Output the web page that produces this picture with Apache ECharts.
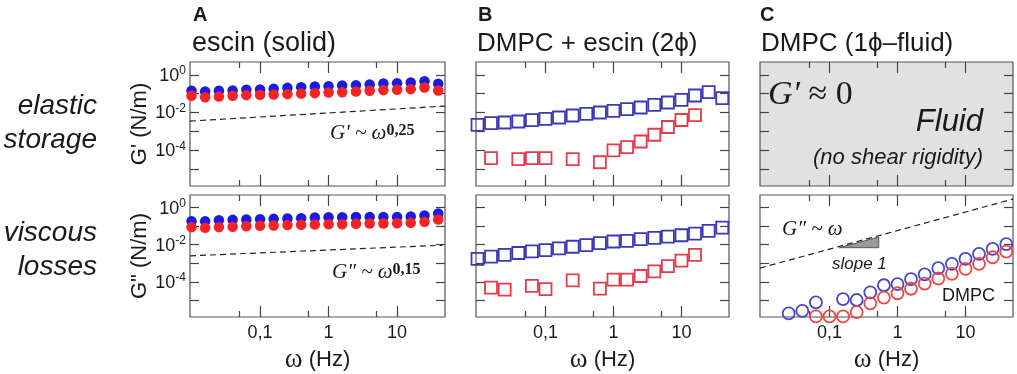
<!DOCTYPE html>
<html>
<head>
<meta charset="utf-8">
<script src="https://cdn.jsdelivr.net/npm/echarts@6/dist/echarts.min.js"></script>
<style>
html, body { margin: 0; padding: 0; background: #fff; }
#chart { width: 1017px; height: 374px; }
</style>
</head>
<body>
<div id="chart"></div>
<script>
// frequency points (Hz), 5 per decade
const freq = [0.01, 0.0158, 0.0251, 0.0398, 0.0631, 0.1, 0.158, 0.251, 0.398, 0.631, 1, 1.58, 2.51, 3.98, 6.31, 10, 15.8, 25.1, 39.8];

// A: escin (solid)
const escinStoreBlue = [0.142, 0.131, 0.142, 0.147, 0.160, 0.166, 0.181, 0.204, 0.222, 0.240, 0.251, 0.270, 0.284, 0.305, 0.345, 0.363, 0.391, 0.463, 0.333];
const escinStoreRed  = [0.0769, 0.0653, 0.0709, 0.0769, 0.0835, 0.0869, 0.0906, 0.0944, 0.102, 0.107, 0.116, 0.120, 0.131, 0.142, 0.154, 0.160, 0.174, 0.213, 0.148];
const escinLossBlue  = [0.186, 0.186, 0.210, 0.219, 0.228, 0.238, 0.248, 0.258, 0.269, 0.292, 0.304, 0.304, 0.317, 0.317, 0.317, 0.317, 0.330, 0.373, 0.478];
const escinLossRed   = [0.0887, 0.0818, 0.0887, 0.0925, 0.100, 0.105, 0.109, 0.114, 0.118, 0.123, 0.128, 0.128, 0.134, 0.139, 0.139, 0.145, 0.151, 0.171, 0.228];
// guide lines (two end points each)
const storeGuideX = [0.0095, 50];
const storeGuideY = [0.0035, 0.022];
const lossGuideX = [0.0095, 46];
const lossGuideY = [0.0025, 0.0094];

// B: DMPC + escin (2 phases)
const mixStoreBlue = [0.00222, 0.00275, 0.00296, 0.00334, 0.00394, 0.00463, 0.00545, 0.00696, 0.00853, 0.0100, 0.0123, 0.0151, 0.0185, 0.0256, 0.034, 0.0472, 0.080, 0.120, 0.0578];
const mixStoreRed  = [null, 3.8e-5, null, 3.4e-5, 3.8e-5, 3.8e-5, null, 3.4e-5, null, 2.3e-5, 9.7e-5, 1.46e-4, 2.9e-4, 6.6e-4, 1.7e-3, 4.0e-3, 7.2e-3, null, null];
const mixLossBlue  = [0.00171, 0.00228, 0.0028, 0.00357, 0.00438, 0.00516, 0.00633, 0.00776, 0.00953, 0.0122, 0.0149, 0.0162, 0.0199, 0.0234, 0.0275, 0.0324, 0.0397, 0.0551, 0.0828];
const mixLossRed   = [null, 4.9e-5, 3.8e-5, null, 6.0e-5, 4.0e-5, null, 1.2e-4, null, 4.3e-5, 1.3e-4, 1.3e-4, 2.05e-4, 3.6e-4, 7.0e-4, 1.4e-3, 2.8e-3, null, null];

// C: DMPC (fluid)
const dmpcLossBlue = [null, null, 2.0e-6, 2.7e-6, 7.8e-6, null, 1.17e-5, 1.04e-5, 2.7e-5, 6.5e-5, 7.4e-5, 1.4e-4, 2.5e-4, 5.5e-4, 9.3e-4, 1.7e-3, 3.2e-3, 5.9e-3, 0.0107];
const dmpcLossRed  = [null, null, null, null, 1.35e-6, 1.35e-6, 1.35e-6, 2.3e-6, 6.9e-6, 1.4e-5, 2.4e-5, 4.2e-5, 8e-5, 1.5e-4, 2.7e-4, 5e-4, 9.3e-4, 2.1e-3, 4.2e-3];
const viscGuideX = [0.0095, 50];
const viscGuideY = [5.5e-4, 2.9];
const slopeTriX = [0.14, 0.53, 0.53];
const slopeTriY = [0.0069, 0.026, 0.0069];

// axes
const X_MIN = 0.0095, X_MAX = 50;
const Y_MIN = 1.26e-6, Y_MAX = 4.8;
const xMajor = [0.1, 1, 10];
const xMajorText = ['0,1', '1', '10'];
const xMinor = [0.05, 0.5, 5];
const yTicks = [1, 0.1, 0.01, 1e-3, 1e-4, 1e-5];
const yLabels = [1, 0.01, 1e-4];

const SANS = '"Liberation Sans", Arial, sans-serif';
const SERIF = '"Liberation Serif", "Times New Roman", serif';
const INK = '#1a1a1a';
const FRAME = '#555';

const grids = [
  { left: 190, top: 62, width: 255, height: 124 },
  { left: 476, top: 62, width: 253, height: 124 },
  { left: 760, top: 62, width: 253, height: 124, backgroundColor: '#e1e1e1' },
  { left: 190, top: 195, width: 255, height: 124 },
  { left: 476, top: 195, width: 253, height: 124 },
  { left: 760, top: 195, width: 253, height: 124 }
].map(g => Object.assign({ show: true, borderColor: FRAME, borderWidth: 1.2, backgroundColor: '#fff' }, g));

const tickLine = { color: '#444', width: 1.2 };
const xAxes = [];
const yAxes = [];
grids.forEach((g, i) => {
  const bottomRow = i >= 3;
  const firstCol = i % 3 === 0;
  const base = {
    type: 'log', gridIndex: i, min: X_MIN, max: X_MAX,
    axisLine: { show: false }, splitLine: { show: false }, axisLabel: { show: false }
  };
  const major = { inside: true, length: 11, customValues: xMajor, lineStyle: tickLine };
  const minor = { inside: true, length: 6, customValues: xMinor, lineStyle: tickLine };
  xAxes.push(Object.assign({}, base, {
    position: 'bottom', axisTick: major,
    axisLabel: bottomRow ? {
      show: true, customValues: xMajor, margin: 7, color: INK, fontSize: 18, fontFamily: SANS,
      formatter: v => xMajorText[xMajor.findIndex(m => Math.abs(Math.log10(m / v)) < 0.01)]
    } : { show: false },
    name: bottomRow ? '{w|ω} (Hz)' : '',
    nameLocation: 'middle', nameGap: 29,
    nameTextStyle: { color: INK, fontSize: 22, fontFamily: SANS, rich: { w: { fontSize: 27, fontFamily: SERIF, color: INK } } }
  }));
  xAxes.push(Object.assign({}, base, { position: 'bottom', axisTick: minor }));
  xAxes.push(Object.assign({}, base, { position: 'top', axisTick: major }));
  xAxes.push(Object.assign({}, base, { position: 'top', axisTick: minor }));

  const ybase = {
    type: 'log', gridIndex: i, min: Y_MIN, max: Y_MAX,
    axisLine: { show: false }, splitLine: { show: false },
    axisTick: { inside: true, length: 9, customValues: yTicks, lineStyle: tickLine }
  };
  yAxes.push(Object.assign({}, ybase, {
    position: 'left',
    axisLabel: firstCol ? {
      show: true, customValues: yLabels, margin: 4, color: INK, fontFamily: SANS,
      formatter: v => '{b|10}{s|' + Math.round(Math.log10(v)) + '}',
      rich: {
        b: { fontSize: 18, lineHeight: 20, verticalAlign: 'bottom', fontFamily: SANS, color: INK },
        s: { fontSize: 12, lineHeight: 12, verticalAlign: 'top', fontFamily: SANS, color: INK }
      }
    } : { show: false },
    name: firstCol ? (bottomRow ? 'G" (N/m)' : "G' (N/m)") : '',
    nameLocation: 'middle', nameGap: 37,
    nameTextStyle: { color: INK, fontSize: 22, fontFamily: SANS }
  }));
  yAxes.push(Object.assign({}, ybase, { position: 'right', axisLabel: { show: false } }));
});

function pairs(xs, ys) {
  return xs.map((x, k) => [x, ys[k]]).filter(p => p[1] != null);
}
function marks(gi, ys, symbol, color, filled, size) {
  return {
    type: 'scatter', xAxisIndex: gi * 4, yAxisIndex: gi * 2,
    data: pairs(freq, ys), symbol: symbol, symbolSize: size, silent: true,
    itemStyle: filled ? { color: color, opacity: 1 }
                      : { color: 'rgba(0,0,0,0)', borderColor: color, borderWidth: 1.8, opacity: 1 }
  };
}
function guide(gi, xs, ys) {
  return {
    type: 'line', xAxisIndex: gi * 4, yAxisIndex: gi * 2, data: pairs(xs, ys),
    symbol: 'none', silent: true,
    lineStyle: { color: '#222', width: 1.2, type: [6, 4] }
  };
}

const series = [
  marks(0, escinStoreBlue, 'circle', '#1a1ae6', true, 10.5),
  marks(0, escinStoreRed, 'circle', '#f72222', true, 10.5),
  guide(0, storeGuideX, storeGuideY),
  marks(3, escinLossBlue, 'circle', '#1a1ae6', true, 10.5),
  marks(3, escinLossRed, 'circle', '#f72222', true, 10.5),
  guide(3, lossGuideX, lossGuideY),
  marks(1, mixStoreBlue, 'rect', '#3a3ab8', false, 12),
  marks(1, mixStoreRed, 'rect', '#e83a48', false, 12),
  marks(4, mixLossBlue, 'rect', '#3a3ab8', false, 12),
  marks(4, mixLossRed, 'rect', '#e83a48', false, 12),
  guide(5, viscGuideX, viscGuideY),
  {
    type: 'custom', xAxisIndex: 20, yAxisIndex: 10, silent: true,
    data: [[slopeTriX[0], slopeTriY[0]]],
    renderItem: (params, api) => ({
      type: 'polygon',
      shape: { points: slopeTriX.map((x, k) => api.coord([x, slopeTriY[k]])) },
      style: { fill: '#9a9a9a', stroke: '#555', lineWidth: 1 }
    })
  },
  marks(5, dmpcLossBlue, 'circle', '#4646cc', false, 12),
  marks(5, dmpcLossRed, 'circle', '#ef4646', false, 12)
];

function label(x, y, text, style) {
  return { type: 'text', x: x, y: y, silent: true,
    style: Object.assign({ text: text, fill: INK, verticalAlign: 'middle', align: 'left' }, style) };
}
const mathRich = {
  i: { fontFamily: SERIF, fontStyle: 'italic', fontSize: 21, color: INK },
  e: { fontFamily: SERIF, fontWeight: 'bold', fontSize: 16, color: INK, verticalAlign: 'top', lineHeight: 14 }
};

const graphic = [
  label(193, 15, 'A', { font: 'bold 20px ' + SANS }),
  label(478, 15, 'B', { font: 'bold 20px ' + SANS }),
  label(760, 15, 'C', { font: 'bold 20px ' + SANS }),
  label(192, 44, 'escin (solid)', { font: '27px ' + SANS }),
  label(477, 44, 'DMPC + escin (2ϕ)', { font: '26px ' + SANS }),
  label(761, 44, 'DMPC (1ϕ–fluid)', { font: '26px ' + SANS }),
  label(97, 123, 'elastic\nstorage', { font: 'italic 28px ' + SANS, align: 'right', lineHeight: 34 }),
  label(97, 250, 'viscous\nlosses', { font: 'italic 28px ' + SANS, align: 'right', lineHeight: 34 }),
  label(330, 133, '{i|G′ ~ ω}{e|0,25}', { rich: mathRich }),
  label(332, 272, '{i|G″ ~ ω}{e|0,15}', { rich: mathRich }),
  label(768, 95, '{i|G′}{r| ≈ 0}', { rich: {
    i: { fontFamily: SERIF, fontStyle: 'italic', fontSize: 34, color: INK },
    r: { fontFamily: SERIF, fontSize: 34, color: INK } } }),
  label(983, 122, 'Fluid', { font: 'italic 31px ' + SANS, align: 'right' }),
  label(983, 158, '(no shear rigidity)', { font: 'italic 22px ' + SANS, align: 'right' }),
  label(782, 229, '{i|G″ ~ ω}', { rich: mathRich }),
  label(832, 264, 'slope 1', { font: 'italic 17px ' + SANS }),
  label(942, 296, 'DMPC', { font: '18px ' + SANS })
];

const chart = echarts.init(document.getElementById('chart'), null, { renderer: 'canvas' });
chart.setOption({
  animation: false,
  backgroundColor: '#fff',
  grid: grids,
  xAxis: xAxes,
  yAxis: yAxes,
  series: series,
  graphic: graphic
});
</script>
</body>
</html>
